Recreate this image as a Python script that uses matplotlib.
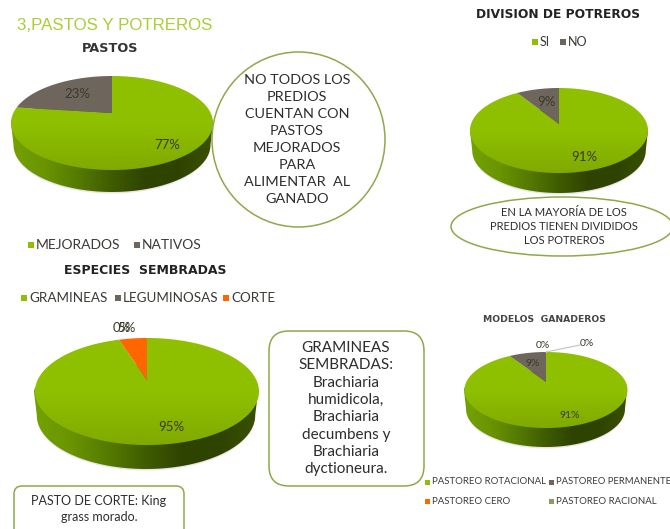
import numpy as np
import matplotlib
matplotlib.use('Agg')
import matplotlib.pyplot as plt
from matplotlib.colors import LinearSegmentedColormap
from matplotlib.patches import Ellipse, FancyBboxPatch, PathPatch, Rectangle
from matplotlib.path import Path

plt.rcParams['font.family'] = ['Lato', 'DejaVu Sans']

GREEN = '#8fc000'
GREY = '#6e665c'
ORANGE = '#ff6600'
SAGE = '#8c9a6c'
OLIVE = '#8fa84a'
TEXT = '#3c3a36'

pastos_labels = ['MEJORADOS', 'NATIVOS']
pastos_values = [77, 23]
division_labels = ['SI', 'NO']
division_values = [91, 9]
especies_labels = ['GRAMINEAS', 'LEGUMINOSAS', 'CORTE']
especies_values = [95, 0, 5]
modelos_labels = ['PASTOREO ROTACIONAL', 'PASTOREO PERMANENTE', 'PASTOREO CERO', 'PASTOREO RACIONAL']
modelos_values = [91, 9, 0, 0]

wall_cmap = LinearSegmentedColormap.from_list(
    'wall', ['#74a200', '#6a9400', '#557a00', '#3f5c00', '#2f4300', '#2f4300', '#3a5200'])
shade_cmap = LinearSegmentedColormap.from_list(
    'shade', [(0.2, 0.2, 0, 0), (0.2, 0.2, 0, 0), (0.2, 0.2, 0, 0.16)])


def draw_pie(ax, values, colors, left, right, top, bottom, apex_x, apex_y, depth):
    cx, cy = (left + right) / 2, (top + bottom) / 2
    a, b = (right - left) / 2, (bottom - top) / 2
    up, down = apex_y - top, bottom - apex_y
    k = (down - up) / (down + up)
    sy = up * (1 + k)
    sx = a * np.sqrt(1 - k ** 2)

    # soft shadow under the disc
    ax.add_patch(Ellipse((cx, cy + depth + 1.5), 2 * a * 0.97, 2 * b, fc='#e6e6e6', lw=0, zorder=0.5))

    # side wall, gradient clipped to the outline
    t = np.linspace(0, np.pi, 120)
    upper = np.column_stack([cx - a * np.cos(t), cy - b * 0.5 * np.sin(t)])
    lower = np.column_stack([cx + a * 0.975 * np.cos(t), cy + depth + b * np.sin(t)])
    outline = Path(np.vstack([upper, lower, upper[:1]]), closed=True)
    grad = np.linspace(0, 1, 256).reshape(1, -1)
    im = ax.imshow(grad, cmap=wall_cmap, aspect='auto', zorder=1,
                   extent=(left, right, bottom + depth, top))
    im.set_clip_path(PathPatch(outline, transform=ax.transData))

    # top surface, one polygon per slice, clockwise from 12 o'clock
    start = 0
    for value, color in zip(values, colors):
        if value == 0:
            continue
        angles = np.radians(np.linspace(start, start + value * 3.6, 200))
        u, v = np.sin(angles), np.cos(angles)
        w = 1 + k * v
        xs = apex_x + sx * u / w
        ys = apex_y - sy * v / w
        ax.fill(np.r_[apex_x, xs], np.r_[apex_y, ys], color=color, lw=0, zorder=2)
        start += value * 3.6

    # surface gets a little darker towards the front
    shade = ax.imshow(np.linspace(0, 1, 128).reshape(-1, 1), cmap=shade_cmap, aspect='auto',
                      zorder=2.5, extent=(left, right, bottom, top))
    shade.set_clip_path(Ellipse((cx, cy), 2 * a, 2 * b, transform=ax.transData))


def legend_item(ax, x, y, label, color, text_size, size=6):
    ax.add_patch(Rectangle((x, y - size / 2), size, size, color=color, lw=0, zorder=3))
    ax.text(x + size + 2, y, label, fontsize=text_size, color=TEXT, va='center', ha='left', zorder=4)


def lines(ax, x, y, step, rows, size):
    for i, row in enumerate(rows):
        ax.text(x, y + i * step, row, fontsize=size, color='#2e2c30', ha='center', va='center', zorder=5)


fig = plt.figure(figsize=(6.7, 5.29), dpi=100)
ax = fig.add_axes([0, 0, 1, 1])
ax.set_xlim(0, 670)
ax.set_ylim(529, 0)
ax.axis('off')

draw_pie(ax, pastos_values, [GREEN, GREY], 11, 213, 76, 170, 112, 113, 22)
draw_pie(ax, division_values, [GREEN, GREY], 470, 648, 88, 173, 559, 124, 20)
draw_pie(ax, especies_values, [GREEN, GREY, ORANGE], 34, 258, 338, 445, 147, 380, 24)
draw_pie(ax, modelos_values, [GREEN, GREY, ORANGE, SAGE], 464, 627, 352, 428, 546, 382, 19)
ax.set_xlim(0, 670)
ax.set_ylim(529, 0)

# heading and chart titles
ax.text(17, 26, '3,PASTOS Y POTREROS', fontsize=12.2, color='#a8cf38', family='Liberation Sans', va='center')
ax.text(110, 49, 'PASTOS', fontsize=9.3, fontweight='bold', color='#333333', ha='center', va='center', family='DejaVu Sans')
ax.text(558.5, 14, 'DIVISION DE POTREROS', fontsize=8.8, fontweight='bold', color='#222222', ha='center', va='center', family='DejaVu Sans')
ax.text(145, 270, 'ESPECIES  SEMBRADAS', fontsize=9, fontweight='bold', color='#222222', ha='center', va='center', family='DejaVu Sans')
ax.text(544, 319, 'MODELOS  GANADEROS', fontsize=6.7, fontweight='bold', color='#444444', ha='center', va='center', family='DejaVu Sans')

# percent labels
pct = dict(fontsize=9.5, color='#3a3a2a', ha='center', va='center', zorder=5)
ax.text(167, 145, f'{pastos_values[0]}%', **pct)
ax.text(77, 94, f'{pastos_values[1]}%', **pct)
ax.text(584, 157, f'{division_values[0]}%', **pct)
ax.text(546, 102, f'{division_values[1]}%', **pct)
ax.text(171, 427, f'{especies_values[0]}%', **pct)
ax.text(122, 328, f'{especies_values[1]}%', **pct)
ax.text(126, 328, f'{especies_values[2]}%', **pct)
small = dict(fontsize=7.5, color='#3a3a2a', ha='center', va='center', zorder=5)
ax.text(570, 415, f'{modelos_values[0]}%', **small)
ax.text(533, 363, f'{modelos_values[1]}%', **small)
ax.text(543, 345, f'{modelos_values[2]}%', **small)
ax.text(587, 344, f'{modelos_values[3]}%', **small)
ax.plot([546, 580], [352, 345], color='#c8c8c0', lw=0.9, zorder=3)

# legends
legend_item(ax, 28, 245, pastos_labels[0], GREEN, 10)
legend_item(ax, 134, 245, pastos_labels[1], GREY, 10)
legend_item(ax, 532, 42, division_labels[0], GREEN, 9)
legend_item(ax, 560, 42, division_labels[1], GREY, 9)
legend_item(ax, 21, 298, especies_labels[0], GREEN, 9.7)
legend_item(ax, 115, 298, especies_labels[1], GREY, 9.7)
legend_item(ax, 223, 298, especies_labels[2], ORANGE, 9.7)
legend_item(ax, 425, 482, modelos_labels[0], GREEN, 6.9, 5)
legend_item(ax, 549, 482, modelos_labels[1], GREY, 6.8, 5)
legend_item(ax, 425, 501, modelos_labels[2], ORANGE, 6.9, 5)
legend_item(ax, 549, 501, modelos_labels[3], SAGE, 6.9, 5)

# callouts
ax.add_patch(Ellipse((298.5, 139.5), 173, 175, fc='white', ec=OLIVE, lw=1.1, zorder=4))
lines(ax, 297, 80, 17, ['NO TODOS LOS', 'PREDIOS', 'CUENTAN CON', 'PASTOS', 'MEJORADOS',
                        'PARA', 'ALIMENTAR  AL', 'GANADO'], 10.4)
ax.add_patch(Ellipse((562, 226.5), 222, 59, fc='white', ec=OLIVE, lw=1.1, zorder=4))
lines(ax, 564, 213, 13.5, ['EN LA MAYORÍA DE LOS', 'PREDIOS TIENEN DIVIDIDOS', 'LOS POTREROS'], 8)
ax.add_patch(FancyBboxPatch((289, 351), 115, 115, boxstyle='round,pad=20,rounding_size=20',
                            fc='white', ec=OLIVE, lw=1.1, zorder=4))
lines(ax, 346, 348, 17.3, ['GRAMINEAS', 'SEMBRADAS:', 'Brachiaria', 'humidicola,', 'Brachiaria',
                           'decumbens y', 'Brachiaria', 'dyctioneura.'], 11)
ax.add_patch(FancyBboxPatch((22, 494), 154, 60, boxstyle='round,pad=8,rounding_size=8',
                            fc='white', ec=OLIVE, lw=1.1, zorder=4))
lines(ax, 99, 501, 16, ['PASTO DE CORTE: King', 'grass morado.'], 9)

fig.savefig('out.png', dpi=100)
